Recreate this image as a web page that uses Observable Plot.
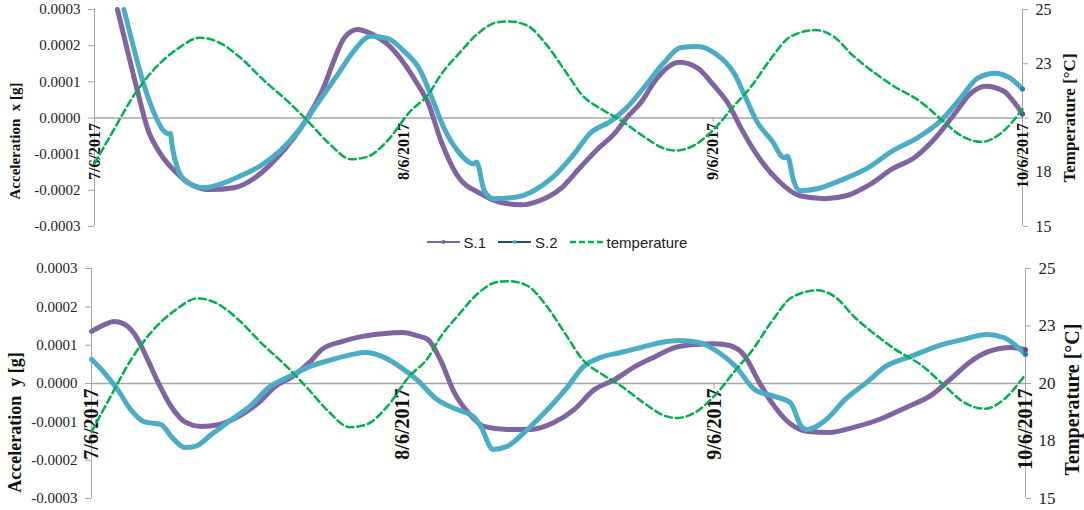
<!DOCTYPE html>
<html>
<head>
<meta charset="utf-8">
<script src="https://cdn.jsdelivr.net/npm/d3@7"></script>
<script src="https://cdn.jsdelivr.net/npm/@observablehq/plot@0.6"></script>
<style>
  html, body { margin: 0; padding: 0; background: #fff; }
  #chart > svg { display: block; }
  #legend { height: 20px; display: flex; justify-content: center; align-items: center;
            padding-left: 30px; font-family: 'Liberation Sans', Arial, sans-serif; font-size: 15px; color: #222; }
  #legend .item { display: flex; align-items: center; margin: 0 6px; }
  #legend svg { margin-right: 4px; }
</style>
</head>
<body>
<div id="chart"></div>
<script>
// ---------- data ----------
const dayTicks = [0, 1, 2, 3];
const dayLabels = ["7/6/2017", "8/6/2017", "9/6/2017", "10/6/2017"];
const accTicks = [-0.0003, -0.0002, -0.0001, 0, 0.0001, 0.0002, 0.0003];
const tempTicks = [15, 17.5, 20, 22.5, 25];

// temperature [°C] (same record in both panels), x = days since 7/6/2017
const tempDays = [0.0,0.06,0.13,0.19,0.27,0.34,0.40,0.47,0.55,0.63,0.70,0.76,0.83,0.88,0.95,1.02,1.08,1.12,1.18,1.24,1.30,1.34,1.40,1.46,1.52,1.58,1.64,1.70,1.78,1.84,1.88,1.94,2.00,2.07,2.12,2.185,2.25,2.33,2.39,2.45,2.52,2.58,2.67,2.74,2.80,2.87,2.93,3.0];
const tempVals = [17.9,19.4,21.1,22.2,23.2,23.7,23.5,22.8,21.7,20.7,19.7,18.8,18.1,18.2,19.0,20.3,21.1,22.0,23.0,23.9,24.4,24.45,24.25,23.4,22.2,21.0,20.4,19.9,19.1,18.6,18.5,18.75,19.45,20.6,21.4,22.7,23.75,24.05,23.75,22.9,22.1,21.5,20.75,19.9,19.2,18.9,19.3,20.4];

// acceleration x [g]
const accX_S1_days = [0.074,0.107,0.139,0.171,0.214,0.268,0.32,0.375,0.45,0.527,0.59,0.644,0.688,0.74,0.773,0.806,0.85,0.892,0.947,1.0,1.044,1.076,1.12,1.17,1.25,1.31,1.38,1.44,1.51,1.57,1.63,1.68,1.72,1.77,1.81,1.85,1.89,1.95,2.0,2.05,2.09,2.14,2.21,2.28,2.36,2.43,2.51,2.58,2.65,2.71,2.78,2.83,2.88,2.94,2.97,3.0];
const accX_S1 = [0.000300,0.000185,0.000074,-0.000028,-0.000100,-0.000154,-0.000187,-0.000198,-0.000193,-0.000160,-0.000110,-0.000055,0.000000,0.000083,0.000157,0.000220,0.000245,0.000234,0.000204,0.000152,0.000094,0.000047,-0.000063,-0.000155,-0.000210,-0.000233,-0.000240,-0.000228,-0.000193,-0.000137,-0.000083,-0.000044,0.000000,0.000047,0.000100,0.000138,0.000154,0.000138,0.000092,0.000038,-0.000028,-0.000100,-0.000173,-0.000215,-0.000223,-0.000215,-0.000182,-0.000140,-0.000110,-0.000063,0.000011,0.000066,0.000088,0.000074,0.000047,0.000011];
const accX_S2_days = [0.095,0.127,0.159,0.19,0.224,0.24,0.245,0.252,0.268,0.3,0.353,0.41,0.472,0.537,0.6,0.666,0.72,0.786,0.838,0.892,0.947,1.0,1.054,1.086,1.13,1.174,1.226,1.235,1.26,1.29,1.355,1.42,1.48,1.55,1.6,1.67,1.72,1.775,1.84,1.895,1.95,2.01,2.07,2.1,2.14,2.19,2.23,2.24,2.26,2.28,2.34,2.41,2.5,2.58,2.66,2.735,2.8,2.855,2.91,2.96,3.0];
const accX_S2 = [0.000300,0.000193,0.000094,0.000019,-0.000036,-0.000044,-0.000042,-0.000083,-0.000138,-0.000179,-0.000193,-0.000182,-0.000160,-0.000132,-0.000091,-0.000028,0.000039,0.000120,0.000185,0.000226,0.000220,0.000185,0.000130,0.000066,-0.000028,-0.000091,-0.000127,-0.000122,-0.000201,-0.000223,-0.000220,-0.000201,-0.000165,-0.000100,-0.000044,-0.000008,0.000028,0.000083,0.000152,0.000195,0.000198,0.000176,0.000120,0.000066,-0.000008,-0.000063,-0.000110,-0.000105,-0.000173,-0.000201,-0.000195,-0.000173,-0.000138,-0.000091,-0.000055,-0.000008,0.000055,0.000110,0.000124,0.000110,0.000080];

// acceleration y [g]
const accY_S1_days = [0,0.03,0.074,0.107,0.149,0.18,0.214,0.256,0.3,0.353,0.41,0.472,0.537,0.59,0.645,0.7,0.74,0.806,0.87,0.935,1.0,1.045,1.08,1.12,1.165,1.21,1.26,1.335,1.41,1.485,1.55,1.615,1.68,1.745,1.81,1.875,1.94,2.0,2.05,2.1,2.14,2.185,2.24,2.3,2.37,2.445,2.53,2.615,2.7,2.757,2.82,2.88,2.955,3.0];
const accY_S1 = [0.000136,0.000149,0.000162,0.000154,0.000115,0.000063,0.000003,-0.000060,-0.000100,-0.000112,-0.000107,-0.000086,-0.000050,-0.000008,0.000018,0.000055,0.000089,0.000110,0.000123,0.000130,0.000133,0.000125,0.000115,0.000063,-0.000023,-0.000076,-0.000112,-0.000120,-0.000120,-0.000102,-0.000068,-0.000016,0.000010,0.000044,0.000070,0.000094,0.000102,0.000104,0.000099,0.000070,0.000010,-0.000050,-0.000102,-0.000125,-0.000128,-0.000115,-0.000094,-0.000063,-0.000029,0.000010,0.000055,0.000083,0.000094,0.000088];
const accY_S2_days = [0,0.04,0.084,0.126,0.17,0.224,0.256,0.3,0.333,0.385,0.45,0.515,0.57,0.635,0.7,0.775,0.838,0.88,0.935,0.99,1.045,1.11,1.174,1.226,1.25,1.29,1.335,1.4,1.465,1.53,1.58,1.636,1.7,1.765,1.83,1.885,1.95,2.015,2.07,2.13,2.195,2.245,2.28,2.3,2.36,2.42,2.49,2.55,2.63,2.715,2.8,2.875,2.93,3.0];
const accY_S2 = [0.000063,0.000029,-0.000016,-0.000068,-0.000100,-0.000107,-0.000138,-0.000167,-0.000164,-0.000133,-0.000094,-0.000055,-0.000010,0.000018,0.000044,0.000063,0.000076,0.000081,0.000070,0.000044,0.000010,-0.000042,-0.000068,-0.000086,-0.000112,-0.000172,-0.000164,-0.000120,-0.000068,-0.000008,0.000044,0.000068,0.000081,0.000094,0.000107,0.000112,0.000107,0.000081,0.000044,-0.000016,-0.000034,-0.000050,-0.000112,-0.000120,-0.000094,-0.000042,0.000003,0.000044,0.000070,0.000097,0.000115,0.000128,0.000120,0.000076];

// ---------- styles ----------
const C_S1 = "#8064a2", C_S2 = "#4bacc6", C_T = "#00b050", C_AX = "#a6a6a6";
const ACC_MAX = 0.0003;
const toAcc = t => (t - 20) / 5 * ACC_MAX;
const fromAcc = a => Math.round((a / ACC_MAX * 5 + 20) * 2) / 2;
const zip = (xs, ys) => xs.map((d, i) => ({d, v: ys[i]}));
const tempTable = tempDays.map((d, i) => ({d, v: toAcc(tempVals[i])}));

function panel(o) {
  const s1 = zip(o.s1d, o.s1v), s2 = zip(o.s2d, o.s2v);
  return Plot.plot({
    width: 1084, height: o.height,
    marginLeft: o.ml, marginRight: o.mr, marginTop: o.mt, marginBottom: o.mb,
    style: {fontFamily: "'Liberation Serif', 'Times New Roman', serif", background: "#fff", color: "#222", overflow: "visible"},
    x: {domain: [0, 3], axis: null},
    y: {domain: [-ACC_MAX, ACC_MAX], axis: null},
    marks: [
      Plot.ruleY([0], {stroke: C_AX, strokeWidth: 1.3}),
      Plot.ruleX([0], {stroke: C_AX}),
      Plot.ruleX([3], {stroke: C_AX}),
      Plot.ruleX(dayTicks, {x: d => d, y1: () => 0, y2: () => 0, insetBottom: -5, stroke: C_AX}),
      Plot.axisY(accTicks, {anchor: "left", tickFormat: d => d.toFixed(4), tickSize: 6, tickPadding: 8,
        stroke: C_AX, fill: "#222", fontSize: o.tickFs, label: null}),
      Plot.axisY(tempTicks.map(toAcc), {anchor: "right", tickFormat: a => fromAcc(a).toFixed(0), tickSize: 5, tickPadding: 8,
        stroke: C_AX, fill: "#222", fontSize: o.rtickFs, label: null}),
      Plot.text(dayTicks, {x: d => d, y: () => 0, text: (d, i) => dayLabels[i], rotate: -90, textAnchor: "end",
        dy: 5, fontWeight: "bold", fontSize: o.dateFs, fill: "#111"}),
      Plot.text([o.title], {frameAnchor: "left", textAnchor: "middle", dx: -(o.ml - 15), dy: o.ltDy, rotate: -90,
        fontWeight: "bold", fontSize: o.ltFs, fill: "#111"}),
      Plot.text(["Temperature [°C]"], {frameAnchor: "right", textAnchor: "middle", dx: o.rtDx, dy: o.rtDy, rotate: -90,
        fontWeight: "bold", fontSize: o.rtFs, fill: "#111"}),
      Plot.line(s1, {x: "d", y: "v", stroke: C_S1, strokeWidth: 5, curve: "monotone-x", strokeLinecap: "round", strokeLinejoin: "round"}),
      Plot.line(s2, {x: "d", y: "v", stroke: C_S2, strokeWidth: 5, curve: "monotone-x", strokeLinecap: "round", strokeLinejoin: "round"}),
      Plot.dot([s1[s1.length - 1]], {x: "d", y: "v", r: 2.5, fill: "#6a4b8e"}),
      Plot.dot([s2[s2.length - 1]], {x: "d", y: "v", r: 2.5, fill: "#2f7fa6"}),
      Plot.line(tempTable, {x: "d", y: "v", stroke: C_T, strokeWidth: 2.5, strokeDasharray: "7,4", curve: "monotone-x"})
    ]
  });
}

const chart = document.getElementById("chart");
chart.append(panel({
  s1d: accX_S1_days, s1v: accX_S1, s2d: accX_S2_days, s2v: accX_S2,
  title: "Acceleration\u00a0 x [g]", height: 232, ml: 94, mr: 62, mt: 9, mb: 6,
  tickFs: 15, rtickFs: 16, dateFs: 16, ltFs: 15, ltDy: 23, rtFs: 17, rtDx: 47, rtDy: 0
}));

const legend = document.createElement("div");
legend.id = "legend";
legend.innerHTML = `
  <div class="item"><svg width="33" height="10"><line x1="0" y1="5" x2="33" y2="5" stroke="${C_S1}" stroke-width="2"/><circle cx="16.5" cy="5" r="2" fill="${C_S1}"/></svg><span>S.1</span></div>
  <div class="item"><svg width="33" height="10"><line x1="0" y1="5" x2="33" y2="5" stroke="#1f4e79" stroke-width="2"/><circle cx="16.5" cy="5" r="2" fill="${C_S2}"/></svg><span>S.2</span></div>
  <div class="item"><svg width="33" height="10"><line x1="0" y1="5" x2="33" y2="5" stroke="${C_T}" stroke-width="2.5" stroke-dasharray="6,3"/></svg><span>temperature</span></div>`;
chart.append(legend);

chart.append(panel({
  s1d: accY_S1_days, s1v: accY_S1, s2d: accY_S2_days, s2v: accY_S2,
  title: "Acceleration\u00a0 y [g]", height: 258, ml: 91, mr: 59, mt: 16, mb: 12,
  tickFs: 15, rtickFs: 17, dateFs: 20, ltFs: 18, ltDy: 39, rtFs: 20, rtDx: 47, rtDy: 16
}));
</script>
</body>
</html>
